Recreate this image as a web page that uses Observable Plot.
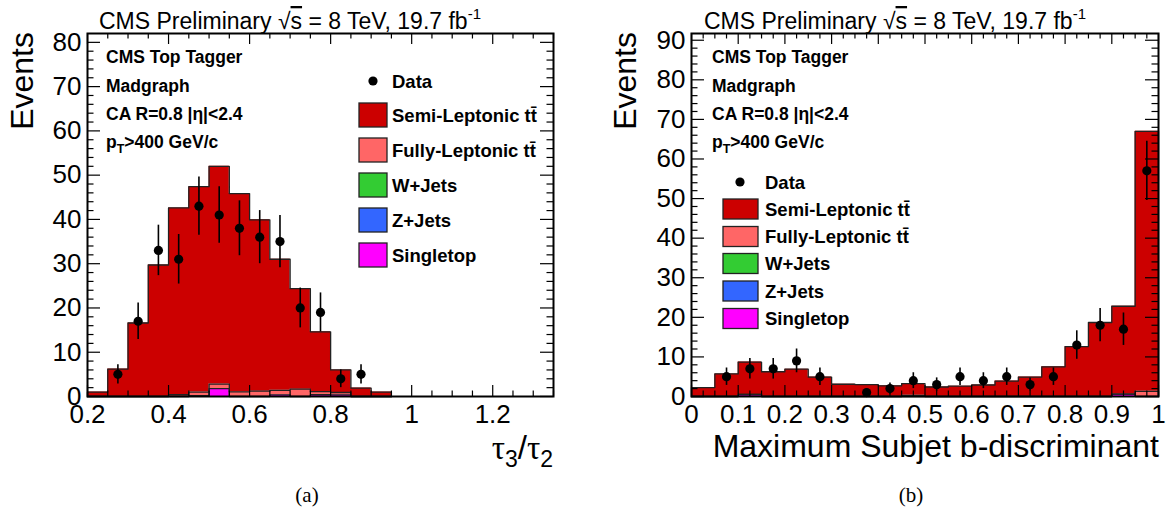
<!DOCTYPE html>
<html>
<head>
<meta charset="utf-8">
<script src="https://cdn.jsdelivr.net/npm/d3@7"></script>
<script src="https://cdn.jsdelivr.net/npm/@observablehq/plot@0.6"></script>
<style>
  html, body { margin: 0; padding: 0; background: #ffffff; }
  #wrap { position: relative; width: 1166px; height: 520px; overflow: hidden; background: #ffffff; }
  #wrap > svg, #wrap > figure { position: absolute; top: 0; margin: 0; }
</style>
</head>
<body>
<div id="wrap"></div>
<script>
// ---------------- DATA ----------------
const seriesNames  = ["Semi-Leptonic tt\u0304", "Fully-Leptonic tt\u0304", "W+Jets", "Z+Jets", "Singletop"];
const seriesColors = ["#cc0000", "#ff6666", "#33cc33", "#3366ff", "#ff00ff"];

// Panel (a): tau3/tau2
const tauBinLow   = [0.2, 0.25, 0.3, 0.35, 0.4, 0.45, 0.5, 0.55, 0.6, 0.65, 0.7, 0.75, 0.8, 0.85, 0.9];
const tauBinWidth = 0.05;
const tauSemi     = [1.0, 6.2, 16.6, 29.7, 42.2, 46.4, 49.2, 44.8, 38.7, 29.6, 22.7, 13.5, 5.1, 1.9, 1.0];
const tauFully    = [0, 0, 0, 0, 0.4, 0.8, 1.0, 1.05, 1.2, 1.05, 1.65, 0.7, 0.55, 0, 0];
const tauWJets    = [0, 0, 0, 0, 0, 0, 0, 0, 0, 0, 0, 0, 0, 0, 0];
const tauZJets    = [0, 0, 0, 0, 0, 0, 0, 0, 0, 0, 0, 0, 0, 0, 0];
const tauSingle   = [0, 0, 0, 0, 0, 0.2, 1.8, 0, 0, 0.35, 0, 0.4, 0.35, 0, 0];
const tauDataX    = [0.275, 0.325, 0.375, 0.425, 0.475, 0.525, 0.575, 0.625, 0.675, 0.725, 0.775, 0.825, 0.875];
const tauDataN    = [5, 17, 33, 31, 43, 41, 38, 36, 35, 20, 19, 4, 5];
const tauDataErr  = [2.2, 4.1, 5.7, 5.6, 6.6, 6.4, 6.2, 6.0, 5.9, 4.5, 4.4, 2.0, 2.2];
const tauXTicks   = [0.2, 0.4, 0.6, 0.8, 1, 1.2];
const tauYTicks   = [0, 10, 20, 30, 40, 50, 60, 70, 80];

// Panel (b): maximum subjet b-discriminant
const bdBinLow    = [0, 0.05, 0.1, 0.15, 0.2, 0.25, 0.3, 0.35, 0.4, 0.45, 0.5, 0.55, 0.6, 0.65, 0.7, 0.75, 0.8, 0.85, 0.9, 0.95];
const bdBinWidth  = 0.05;
const bdSemi      = [2.25, 5.7, 8.2, 6.25, 6.9, 4.9, 3.1, 3.0, 2.7, 2.95, 2.4, 2.6, 2.9, 3.9, 4.9, 7.5, 12.6, 18.7, 22.2, 65.7];
const bdFully     = [0, 0, 0, 0, 0, 0, 0, 0, 0, 0.3, 0, 0, 0, 0, 0, 0, 0, 0, 0, 1.3];
const bdWJets     = [0, 0, 0, 0, 0, 0, 0, 0, 0, 0, 0, 0, 0, 0, 0, 0, 0, 0, 0, 0];
const bdZJets     = [0, 0, 0, 0, 0, 0, 0, 0, 0, 0, 0, 0, 0, 0, 0, 0, 0, 0, 0, 0];
const bdSingle    = [0, 0, 0.5, 0, 0, 0, 0, 0, 0, 0, 0, 0, 0, 0, 0, 0, 0, 0, 0.6, 0];
const bdDataX     = [0.075, 0.125, 0.175, 0.225, 0.275, 0.375, 0.425, 0.475, 0.525, 0.575, 0.625, 0.675, 0.725, 0.775, 0.825, 0.875, 0.925, 0.975];
const bdDataN     = [5, 7, 7, 9, 5, 1, 2, 4, 3, 5, 4, 5, 3, 5, 13, 18, 17, 57];
const bdDataErr   = [2.2, 2.6, 2.6, 3.0, 2.2, 1.0, 1.4, 2.0, 1.7, 2.2, 2.0, 2.2, 1.7, 2.2, 3.6, 4.2, 4.1, 7.5];
const bdXTicks    = [0, 0.1, 0.2, 0.3, 0.4, 0.5, 0.6, 0.7, 0.8, 0.9, 1];
const bdYTicks    = [0, 10, 20, 30, 40, 50, 60, 70, 80, 90];

// ---------------- DRAWING ----------------
const FONT = "'Liberation Sans', Arial, Helvetica, sans-serif";
const wrap = document.getElementById("wrap");

function panel(cfg) {
  const height = 470, marginTop = 33, marginBottom = 74;
  const plotH = height - marginTop - marginBottom;
  const plotW = cfg.width - cfg.marginLeft - cfg.marginRight;
  const n = cfg.binLow.length;
  const orderBottomUp = seriesNames.slice().reverse();
  const colorOf = Object.fromEntries(seriesNames.map((s, i) => [s, seriesColors[i]]));
  // stacked histogram: one step-shaped band per process (bottom -> top)
  const cum = cfg.binLow.map(() => 0);
  const bands = [], contour = [];
  orderBottomUp.forEach((name) => {
    const vals = cfg.layers[seriesNames.indexOf(name)];
    const lo = cum.slice();
    vals.forEach((v, i) => cum[i] += v);
    if (vals.every(v => v === 0)) return;
    for (let i = 0; i < n; i++) {
      bands.push({x: cfg.binLow[i], lo: lo[i], hi: cum[i], s: name});
      bands.push({x: cfg.binLow[i] + cfg.binWidth, lo: lo[i], hi: cum[i], s: name});
    }
    contour.push({x: cfg.binLow[0], y: 0, s: name});
    for (let i = 0; i < n; i++) {
      contour.push({x: cfg.binLow[i], y: cum[i], s: name});
      contour.push({x: cfg.binLow[i] + cfg.binWidth, y: cum[i], s: name});
    }
    contour.push({x: cfg.binLow[n - 1] + cfg.binWidth, y: 0, s: name});
  });
  const pts = cfg.dataX.map((x, i) => ({x, n: cfg.dataN[i], e: cfg.dataErr[i]}));
  const xMinor = cfg.xMinor.filter(t => !cfg.xTicks.some(m => Math.abs(m - t) < 1e-9));
  const yMinor = cfg.yMinor.filter(t => !cfg.yTicks.some(m => Math.abs(m - t) < 1e-9));
  const tickStroke = {stroke: "#000", strokeWidth: 1.2};
  const chart = Plot.plot({
    width: cfg.width, height, marginLeft: cfg.marginLeft, marginRight: cfg.marginRight,
    marginTop, marginBottom,
    style: {fontFamily: FONT, fontSize: "26px", background: "transparent", overflow: "visible", color: "#000"},
    x: {domain: cfg.xDomain, ticks: cfg.xTicks, tickFormat: d3.format("~g"), tickSize: 0, tickPadding: 8, label: null},
    y: {domain: cfg.yDomain, ticks: cfg.yTicks, tickSize: 0, tickPadding: 6, label: null},
    marks: [
      Plot.areaY(bands, {x: "x", y1: "lo", y2: "hi", z: "s", fill: d => colorOf[d.s], curve: "linear"}),
      Plot.line(contour, {x: "x", y: "y", z: "s", stroke: "#222", strokeWidth: 1.3, curve: "linear"}),
      // ticks drawn inside the frame, on all four sides
      Plot.ruleX(cfg.xTicks, {x: d => d, insetTop: plotH - 11, ...tickStroke}),
      Plot.ruleX(xMinor, {x: d => d, insetTop: plotH - 5.5, ...tickStroke}),
      Plot.ruleX(cfg.xTicks, {x: d => d, insetBottom: plotH - 11, ...tickStroke}),
      Plot.ruleX(xMinor, {x: d => d, insetBottom: plotH - 5.5, ...tickStroke}),
      Plot.ruleY(cfg.yTicks, {y: d => d, insetRight: plotW - 13, ...tickStroke}),
      Plot.ruleY(yMinor, {y: d => d, insetRight: plotW - 6.5, ...tickStroke}),
      Plot.ruleY(cfg.yTicks, {y: d => d, insetLeft: plotW - 13, ...tickStroke}),
      Plot.ruleY(yMinor, {y: d => d, insetLeft: plotW - 6.5, ...tickStroke}),
      // data with statistical errors
      Plot.ruleX(pts, {x: "x", y1: d => d.n - d.e, y2: d => d.n + d.e, stroke: "#000", strokeWidth: 1.6}),
      Plot.dot(pts, {x: "x", y: "n", r: 4.6, fill: "#000", stroke: "none"}),
      Plot.frame({stroke: "#000", strokeWidth: 2})
    ]
  });
  chart.style.left = cfg.left + "px";
  chart.style.position = "absolute";
  chart.style.top = "0px";
  wrap.appendChild(chart);
}

panel({
  left: 0, width: 580, marginLeft: 87, marginRight: 27,
  xDomain: [0.2, 1.35], yDomain: [0, 82],
  binLow: tauBinLow, binWidth: tauBinWidth,
  layers: [tauSemi, tauFully, tauWJets, tauZJets, tauSingle],
  dataX: tauDataX, dataN: tauDataN, dataErr: tauDataErr,
  xTicks: tauXTicks, xMinor: d3.range(0.2, 1.351, 0.05).map(v => +v.toFixed(3)),
  yTicks: tauYTicks, yMinor: d3.range(0, 82, 2)
});
panel({
  left: 600, width: 566, marginLeft: 91, marginRight: 8,
  xDomain: [0, 1], yDomain: [0, 91.7],
  binLow: bdBinLow, binWidth: bdBinWidth,
  layers: [bdSemi, bdFully, bdWJets, bdZJets, bdSingle],
  dataX: bdDataX, dataN: bdDataN, dataErr: bdDataErr,
  xTicks: bdXTicks, xMinor: d3.range(0, 1.001, 0.025).map(v => +v.toFixed(3)),
  yTicks: bdYTicks, yMinor: d3.range(0, 91.7, 2)
});

// ---------------- TEXT OVERLAY (titles, labels, legends, captions) ----------------
const ov = d3.select(wrap).append("svg")
  .attr("width", 1166).attr("height", 520)
  .style("position", "absolute").style("left", "0px").style("top", "0px")
  .style("pointer-events", "none")
  .attr("font-family", FONT);

function title(x) {
  const t = ov.append("text").attr("x", x).attr("y", 29).attr("font-size", 23).attr("fill", "#000");
  t.append("tspan").text("CMS Preliminary ");
  t.append("tspan").text("\u221A");
  t.append("tspan").attr("text-decoration", "overline").text("s");
  t.append("tspan").text(" = 8 TeV, 19.7 fb");
  t.append("tspan").attr("font-size", 15).attr("dy", -10).text("-1");
}
title(99);
title(704);

function yTitle(x) {
  ov.append("text").attr("transform", `translate(${x},32) rotate(-90)`)
    .attr("text-anchor", "end").attr("font-size", 32).text("Events");
}
yTitle(33);
yTitle(636);

// x titles
{
  const t = ov.append("text").attr("x", 553).attr("y", 459).attr("text-anchor", "end").attr("font-size", 33);
  t.append("tspan").attr("font-family", "'Liberation Serif', 'DejaVu Serif', serif").text("\u03C4");
  t.append("tspan").attr("font-size", 23).attr("dy", 8).text("3");
  t.append("tspan").attr("dy", -8).text("/");
  t.append("tspan").attr("font-family", "'Liberation Serif', 'DejaVu Serif', serif").text("\u03C4");
  t.append("tspan").attr("font-size", 23).attr("dy", 8).text("2");
}
ov.append("text").attr("x", 1159).attr("y", 457).attr("text-anchor", "end").attr("font-size", 32)
  .text("Maximum Subjet b-discriminant");

// annotations inside the frames
function notes(x) {
  const base = [63, 92, 120, 148];
  const g = ov.append("g").attr("font-weight", "bold").attr("font-size", 17.5);
  g.append("text").attr("x", x).attr("y", base[0]).text("CMS Top Tagger");
  g.append("text").attr("x", x).attr("y", base[1]).text("Madgraph");
  g.append("text").attr("x", x).attr("y", base[2]).text("CA R=0.8 |\u03B7|<2.4");
  const t = g.append("text").attr("x", x).attr("y", base[3]);
  t.append("tspan").text("p");
  t.append("tspan").attr("font-size", 12.5).attr("dy", 5).text("T");
  t.append("tspan").attr("dy", -5).text(">400 GeV/c");
}
notes(106);
notes(712);

// legends
function legend(L) {
  const g = ov.append("g").attr("font-weight", "bold").attr("font-size", 18.5);
  g.append("circle").attr("cx", L.dotX).attr("cy", L.dataY).attr("r", 4.6).attr("fill", "#000");
  g.append("text").attr("x", L.textX).attr("y", L.dataY + 6.5).text("Data");
  seriesNames.forEach((name, i) => {
    const cy = L.rows[i];
    g.append("rect").attr("x", L.boxX).attr("y", cy - L.boxH / 2)
      .attr("width", L.boxW).attr("height", L.boxH)
      .attr("fill", seriesColors[i]).attr("stroke", "#222").attr("stroke-width", 1.3);
    g.append("text").attr("x", L.textX).attr("y", cy + 6.5).text(name);
  });
}
legend({dotX: 373, dataY: 81, textX: 392, boxX: 359, boxW: 28, boxH: 24, rows: [115, 150, 185, 220, 255]});
legend({dotX: 740, dataY: 182, textX: 765, boxX: 723, boxW: 35, boxH: 20, rows: [209, 236.5, 263.5, 291, 318.5]});

// captions
ov.append("text").attr("x", 307).attr("y", 502).attr("text-anchor", "middle")
  .attr("font-family", "'Liberation Serif', 'DejaVu Serif', serif").attr("font-size", 21).text("(a)");
ov.append("text").attr("x", 911).attr("y", 502).attr("text-anchor", "middle")
  .attr("font-family", "'Liberation Serif', 'DejaVu Serif', serif").attr("font-size", 21).text("(b)");
</script>
</body>
</html>
